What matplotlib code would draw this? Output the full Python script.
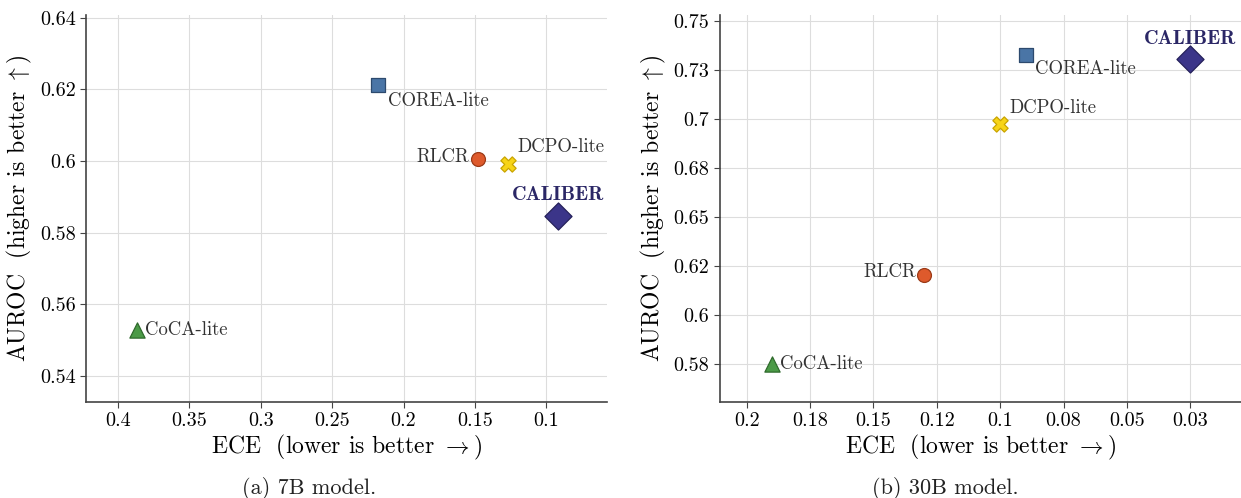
import matplotlib
matplotlib.use("Agg")
import matplotlib.pyplot as plt
import numpy as np

plt.rcParams['font.family'] = ['cmr10', 'DejaVu Serif']
plt.rcParams['mathtext.fontset'] = 'cm'
plt.rcParams['axes.unicode_minus'] = False

methods = ["COREA-lite", "RLCR", "DCPO-lite", "CALIBER", "CoCA-lite"]

# 7B model
ece_7b = [0.218, 0.148, 0.127, 0.092, 0.387]
auroc_7b = [0.6213, 0.6006, 0.5992, 0.5845, 0.5528]

# 30B model
ece_30b = [0.090, 0.130, 0.100, 0.025, 0.190]
auroc_30b = [0.7327, 0.6205, 0.6974, 0.7305, 0.5748]

xticks_7b = [0.4, 0.35, 0.3, 0.25, 0.2, 0.15, 0.1]
xlabels_7b = ["0.4", "0.35", "0.3", "0.25", "0.2", "0.15", "0.1"]
yticks_7b = [0.54, 0.56, 0.58, 0.6, 0.62, 0.64]
ylabels_7b = ["0.54", "0.56", "0.58", "0.6", "0.62", "0.64"]

xticks_30b = [0.2, 0.175, 0.15, 0.125, 0.1, 0.075, 0.05, 0.025]
xlabels_30b = ["0.2", "0.18", "0.15", "0.12", "0.1", "0.08", "0.05", "0.03"]
yticks_30b = [0.575, 0.6, 0.625, 0.65, 0.675, 0.7, 0.725, 0.75]
ylabels_30b = ["0.58", "0.6", "0.62", "0.65", "0.68", "0.7", "0.73", "0.75"]

# style per method
markers = {"COREA-lite": "s", "RLCR": "o", "DCPO-lite": "X", "CALIBER": "D", "CoCA-lite": "^"}
colors = {"COREA-lite": "#4a75a6", "RLCR": "#de5a2c", "DCPO-lite": "#f7d417",
          "CALIBER": "#3b3589", "CoCA-lite": "#4b9a47"}
edges = {"COREA-lite": "#2d4a6e", "RLCR": "#9c3a17", "DCPO-lite": "#c9a400",
         "CALIBER": "#24205a", "CoCA-lite": "#2f6a2c"}
sizes = {"COREA-lite": 110, "RLCR": 100, "DCPO-lite": 120, "CALIBER": 190, "CoCA-lite": 120}

# label offsets (points) and alignment
offs_7b = {"COREA-lite": (7, -5, "left", "top"), "RLCR": (-6, 1, "right", "center"),
           "DCPO-lite": (7, 6, "left", "bottom"), "CALIBER": (0, 9, "center", "bottom"),
           "CoCA-lite": (6, 0, "left", "center")}
offs_30b = {"COREA-lite": (7, -4, "left", "top"), "RLCR": (-6, 2, "right", "center"),
            "DCPO-lite": (7, 5, "left", "bottom"), "CALIBER": (0, 8, "center", "bottom"),
            "CoCA-lite": (6, 0, "left", "center")}


def panel(ax, ece, auroc, offs, xt, xl, yt, yl, xlim, ylim):
    for m, x, y in zip(methods, ece, auroc):
        ax.scatter(x, y, marker=markers[m], s=sizes[m], c=colors[m],
                   edgecolors=edges[m], linewidths=0.9, zorder=3)
        dx, dy, ha, va = offs[m]
        if m == "CALIBER":
            ax.annotate(m, (x, y), xytext=(dx, dy), textcoords="offset points",
                        ha=ha, va=va, fontsize=14.5, family=['cmb10', 'DejaVu Serif'],
                        color="#2b2766")
        else:
            ax.annotate(m, (x, y), xytext=(dx, dy), textcoords="offset points",
                        ha=ha, va=va, fontsize=13.5, color="#333333")
    ax.set_xlim(xlim)
    ax.set_ylim(ylim)
    ax.set_xticks(xt)
    ax.set_xticklabels(xl)
    ax.set_yticks(yt)
    ax.set_yticklabels(yl)
    ax.tick_params(labelsize=14.5, length=4, color="#444444")
    ax.grid(True, color="#dddddd", linewidth=0.8)
    ax.set_axisbelow(True)
    for s in ["top", "right"]:
        ax.spines[s].set_visible(False)
    for s in ["left", "bottom"]:
        ax.spines[s].set_color("#444444")
        ax.spines[s].set_linewidth(1.2)
    ax.set_xlabel(r"ECE  (lower is better $\rightarrow$)", fontsize=17, labelpad=2)
    ax.set_ylabel(r"AUROC  (higher is better $\uparrow$)", fontsize=17, labelpad=4)


fig = plt.figure(figsize=(12.41, 4.98), dpi=100)
ax1 = fig.add_axes([0.0693, 0.193, 0.420, 0.777])
ax2 = fig.add_axes([0.580, 0.193, 0.420, 0.777])

panel(ax1, ece_7b, auroc_7b, offs_7b, xticks_7b, xlabels_7b, yticks_7b, ylabels_7b,
      (0.4224, 0.0573), (0.5327, 0.6408))
panel(ax2, ece_30b, auroc_30b, offs_30b, xticks_30b, xlabels_30b, yticks_30b, ylabels_30b,
      (0.2106, 0.0050), (0.5556, 0.7530))

fig.text(0.249, 0.02, "(a) 7B model.", ha="center", va="center", fontsize=16, color="#222222")
fig.text(0.762, 0.02, "(b) 30B model.", ha="center", va="center", fontsize=16, color="#222222")

fig.savefig("out.png", dpi=100)
